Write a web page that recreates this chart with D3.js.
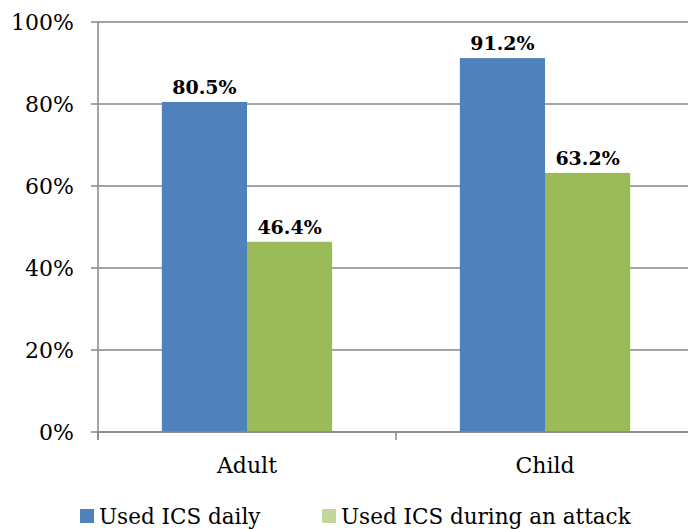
<!DOCTYPE html>
<html>
<head>
<meta charset="utf-8">
<script src="https://cdn.jsdelivr.net/npm/d3@7"></script>
<style>
  body { margin: 0; background: #fff; }
  text { font-family: "DejaVu Serif", serif; fill: #000; }
</style>
</head>
<body>
<div id="chart"></div>
<script>
var categories = ["Adult", "Child"];
var seriesNames = ["Used ICS daily", "Used ICS during an attack"];
var daily = [80.5, 91.2];
var attack = [46.4, 63.2];
var yTicks = [0, 20, 40, 60, 80, 100];
var colors = ["#4f81bd", "#9bbb59"];
var legendColors = ["#4f81bd", "#c3d69b"];

var width = 688, height = 529;
var plotLeft = 98, plotRight = 694, plotTop = 22, plotBottom = 432;

var svg = d3.select("#chart").append("svg")
    .attr("width", width)
    .attr("height", height);

var y = d3.scaleLinear().domain([0, 100]).range([plotBottom, plotTop]);
var x0 = d3.scaleBand().domain(categories).range([plotLeft, plotRight]).padding(0);
var x1 = d3.scaleBand().domain(seriesNames).range([0, x0.bandwidth()])
    .paddingInner(0).paddingOuter(0.75);

// gridlines
svg.selectAll(".grid")
    .data(yTicks)
    .enter().append("line")
    .attr("x1", plotLeft - 7)
    .attr("x2", width)
    .attr("y1", function(d) { return y(d); })
    .attr("y2", function(d) { return y(d); })
    .style("stroke", "#878787")
    .style("stroke-width", 1.5);

// y labels
svg.selectAll(".ylab")
    .data(yTicks)
    .enter().append("text")
    .attr("x", 74)
    .attr("y", function(d) { return y(d) + 8; })
    .attr("text-anchor", "end")
    .style("font-size", "22px")
    .text(function(d) { return d + "%"; });

var rows = categories.map(function(c, i) {
    return [
        { cat: c, s: seriesNames[0], v: daily[i], k: 0 },
        { cat: c, s: seriesNames[1], v: attack[i], k: 1 }
    ];
});

var group = svg.selectAll(".cat")
    .data(rows)
    .enter().append("g")
    .attr("transform", function(d) { return "translate(" + x0(d[0].cat) + ",0)"; });

group.selectAll("rect")
    .data(function(d) { return d; })
    .enter().append("rect")
    .attr("x", function(d) { return x1(d.s); })
    .attr("width", x1.bandwidth())
    .attr("y", function(d) { return y(d.v); })
    .attr("height", function(d) { return plotBottom - y(d.v); })
    .style("fill", function(d) { return colors[d.k]; });

group.selectAll(".val")
    .data(function(d) { return d; })
    .enter().append("text")
    .attr("x", function(d) { return x1(d.s) + x1.bandwidth() / 2; })
    .attr("y", function(d) { return y(d.v) - 8; })
    .attr("text-anchor", "middle")
    .style("font-size", "19px")
    .style("font-weight", "bold")
    .text(function(d) { return d.v.toFixed(1) + "%"; });

// axes lines
svg.append("line")
    .attr("x1", plotLeft).attr("x2", plotLeft)
    .attr("y1", plotTop).attr("y2", plotBottom + 8)
    .style("stroke", "#878787").style("stroke-width", 1.5);
svg.append("line")
    .attr("x1", plotLeft).attr("x2", width)
    .attr("y1", plotBottom).attr("y2", plotBottom)
    .style("stroke", "#878787").style("stroke-width", 1.5);

svg.selectAll(".xtick")
    .data(categories.concat([null]))
    .enter().append("line")
    .attr("x1", function(d, i) { return plotLeft + i * x0.step(); })
    .attr("x2", function(d, i) { return plotLeft + i * x0.step(); })
    .attr("y1", plotBottom)
    .attr("y2", plotBottom + 8)
    .style("stroke", "#878787").style("stroke-width", 1.5);

svg.selectAll(".xlab")
    .data(categories)
    .enter().append("text")
    .attr("x", function(d) { return x0(d) + x0.bandwidth() / 2; })
    .attr("y", 473)
    .attr("text-anchor", "middle")
    .style("font-size", "22px")
    .text(function(d) { return d; });

// legend
var legendX = [80, 322];
var legend = svg.selectAll(".legend")
    .data(seriesNames)
    .enter().append("g")
    .attr("transform", function(d, i) { return "translate(" + legendX[i] + ",509)"; });
legend.append("rect")
    .attr("width", 14).attr("height", 14)
    .style("fill", function(d, i) { return legendColors[i]; });
legend.append("text")
    .attr("x", 19).attr("y", 15)
    .style("font-size", "21.5px")
    .text(function(d) { return d; });
</script>
</body>
</html>
